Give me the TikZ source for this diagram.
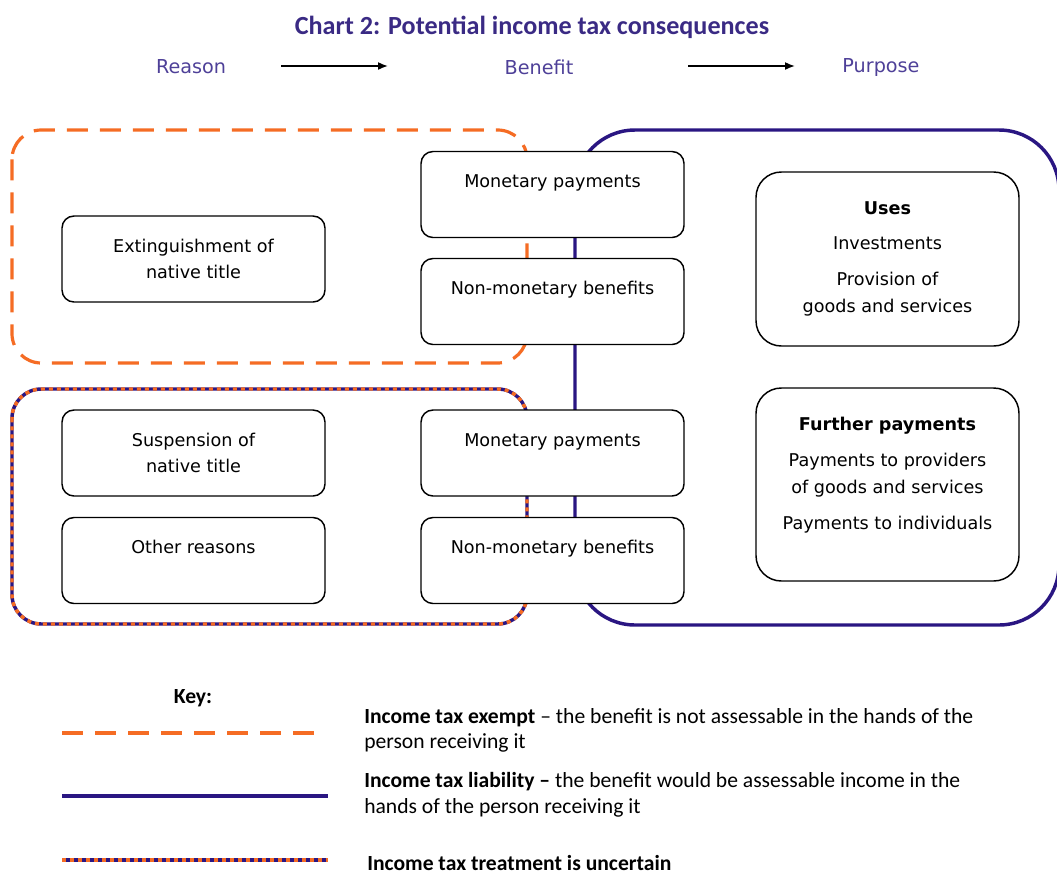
\documentclass[tikz,border=0pt]{standalone}
\usepackage{fontspec}
\setmainfont{Carlito}
\newfontfamily\boxfont{DejaVu Sans}
\usetikzlibrary{arrows.meta}

\definecolor{exemptorange}{RGB}{245,108,36}
\definecolor{liabnavy}{RGB}{42,22,130}
\definecolor{titlepurple}{RGB}{58,42,132}
\definecolor{headpurple}{RGB}{78,64,152}

\tikzset{
  reasonbox/.style={draw, line width=1.1pt, rounded corners=9pt, fill=white,
    minimum width=197.25pt, minimum height=64.5pt, inner sep=0pt, align=center,
    font=\boxfont\fontsize{13.2}{20}\selectfont},
  purposebox/.style={reasonbox, rounded corners=19pt},
  headword/.style={text=headpurple, inner sep=0.75pt, font=\boxfont\fontsize{14.4}{18}\selectfont},
  hdrarrow/.style={line width=1.2pt, -{Latex[length=7.5pt,width=6pt]}},
  exemptline/.style={draw=exemptorange, line width=2.4pt, dash pattern=on 15.75pt off 9pt},
  liableline/.style={draw=liabnavy, line width=2.6pt},
  unsureline/.style={draw=liabnavy, line width=2.6pt,
    postaction={draw=exemptorange, line width=2.6pt, dash pattern=on 3pt off 3pt}},
  keytext/.style={anchor=base west, inner sep=0pt, align=left,
    font=\fontsize{16.2}{18.8}\selectfont}
}

\begin{document}
\begin{tikzpicture}[x=0.75pt,y=0.75pt,yscale=-1,xscale=1]
\useasboundingbox (0,0) rectangle (1057,875);

% Title and column heads
\node [text=titlepurple, font=\bfseries\fontsize{19.6}{22}\selectfont] (chartttl) at (532,27.5) {Chart 2: Potential income tax consequences};
\node [headword] (reason) at (191,67) {Reason};
\node [headword] (benefit) at (539,67) {Benefit};
\node [headword] (purpose) at (881,67) {Purpose};
\coordinate (arwRs) at (281,66);
\coordinate (arwRe) at (388,66);
\coordinate (arwBs) at (688,66);
\coordinate (arwBe) at (795,66);
\draw [hdrarrow] (arwRs) -- (arwRe);
\draw [hdrarrow] (arwBs) -- (arwBe);

% Group outlines
\draw [liableline, rounded corners=45pt] (575,130) rectangle (1059,625);
\draw [exemptline, rounded corners=22pt] (12,130) rectangle (527,363);
\draw [unsureline, rounded corners=22pt] (12,389) rectangle (527,624);

% Reason boxes
\node [reasonbox] (extinguish) at (193.5,259) {Extinguishment of\\native title};
\node [reasonbox] (suspend) at (193.5,453) {Suspension of\\native title};
\node [reasonbox] (otherrsn) at (193.5,560.5) {Other reasons\\\mbox{}};

% Benefit boxes
\node [reasonbox] (monetaryA) at (552.5,194.5) {Monetary payments\\\mbox{}};
\node [reasonbox] (nonmonA) at (552.5,301.5) {Non-monetary benefits\\\mbox{}};
\node [reasonbox] (monetaryB) at (552.5,453) {Monetary payments\\\mbox{}};
\node [reasonbox] (nonmonB) at (552.5,560.5) {Non-monetary benefits\\\mbox{}};

% Purpose boxes
\node [purposebox, minimum height=130.5pt] (uses) at (887.5,259) {\textbf{Uses}\\[6.5pt]Investments\\[7pt]Provision of\\goods and services};
\node [purposebox, minimum height=144.75pt] (further) at (887.5,484.5) {\textbf{Further payments}\\[7pt]Payments to providers\\of goods and services\\[7pt]Payments to individuals\\[-3pt]\mbox{}};

% Key
\node [font=\bfseries\fontsize{16.2}{18}\selectfont, inner sep=0pt] (keyhd) at (193,698) {Key:};
\coordinate (keyExA) at (62,733);
\coordinate (keyExB) at (315,733);
\coordinate (keyLiA) at (62,796);
\coordinate (keyLiB) at (328,796);
\coordinate (keyUnA) at (62,860);
\coordinate (keyUnB) at (328,860);
\draw [exemptline] (keyExA) -- (keyExB);
\draw [liableline] (keyLiA) -- (keyLiB);
\draw [unsureline] (keyUnA) -- (keyUnB);
\node [keytext] (keyex) at (364,748.5) {\textbf{Income tax exempt} -- the benefit is not assessable in the hands of the\\person receiving it};
\node [keytext] (keyli) at (364,813) {\textbf{Income tax liability --} the benefit would be assessable income in the\\hands of the person receiving it};
\node [keytext, font=\bfseries\fontsize{16.2}{18}\selectfont] (keyun) at (367,870.5) {Income tax treatment is uncertain};

\end{tikzpicture}
\end{document}
